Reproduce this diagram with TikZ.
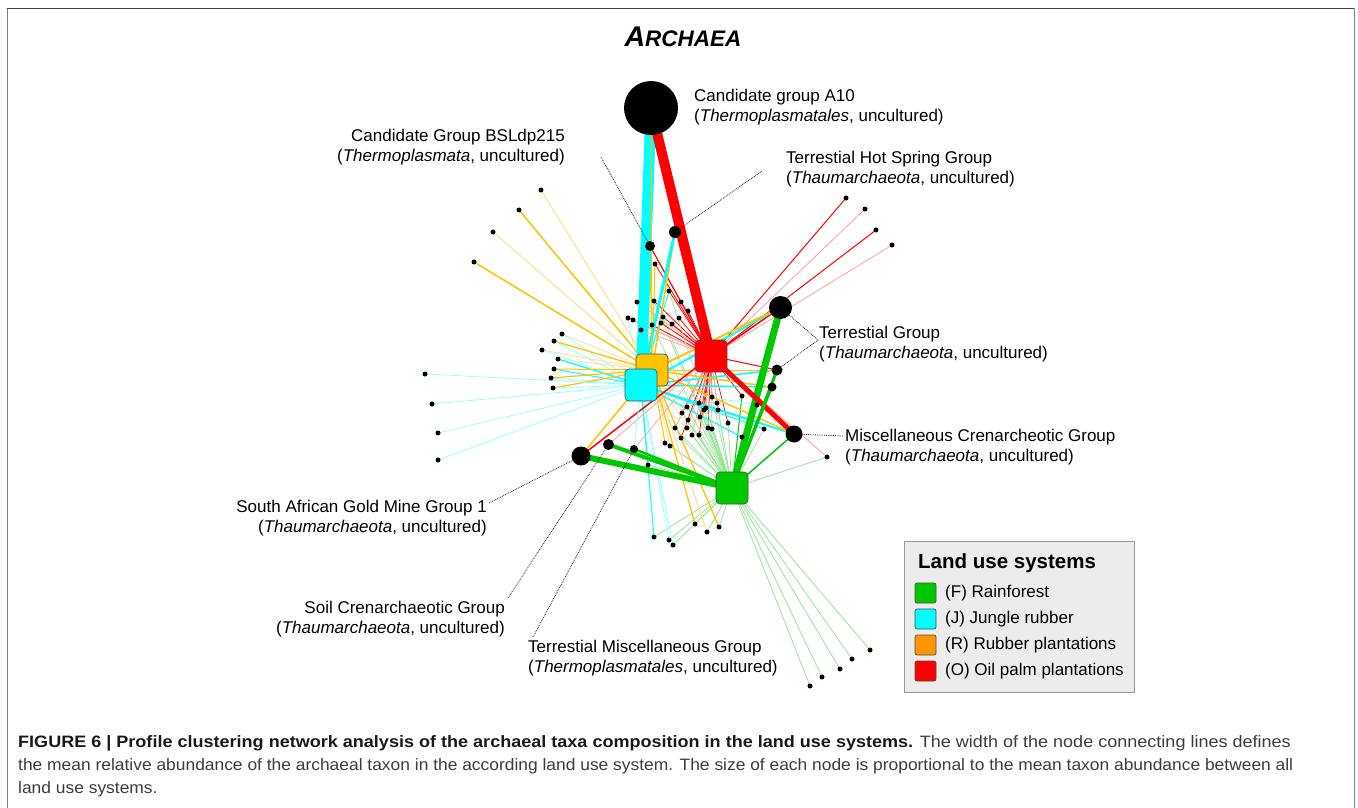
\documentclass[tikz,border=0pt]{standalone}
\usepackage{fontspec}
\setmainfont{Liberation Sans}
\newfontfamily\capfont{Liberation Sans}
\pgfdeclarelayer{edges}
\pgfsetlayers{edges,main}
\definecolor{cF}{RGB}{0,200,0}
\definecolor{cJ}{RGB}{0,255,255}
\definecolor{cR}{RGB}{255,195,0}
\definecolor{cRleg}{RGB}{255,150,0}
\definecolor{cO}{RGB}{255,0,0}
\definecolor{lF}{RGB}{150,228,150}
\definecolor{lJ}{RGB}{150,255,255}
\definecolor{lR}{RGB}{255,222,140}
\definecolor{lO}{RGB}{255,160,160}
\definecolor{capgray}{RGB}{60,60,60}
\definecolor{legfill}{RGB}{236,236,236}
\tikzset{
  hub/.style={draw=black!70, line width=0.7pt, rounded corners=4pt, minimum size=32pt, inner sep=0pt},
  taxon/.style={circle, fill=black, inner sep=0pt, minimum size=#1},
  leaf/.style={circle, fill=black, inner sep=0pt, minimum size=5pt},
  lbl/.style={font=\fontsize{17}{19.5}\selectfont, inner sep=0pt},
  lead/.style={densely dotted, line width=0.8pt, black!90},
  swatch/.style={draw=black!70, line width=0.7pt, rounded corners=2pt, minimum width=21pt, minimum height=20pt, inner sep=0pt},
  legtxt/.style={font=\fontsize{17}{19}\selectfont, inner sep=0pt, anchor=west},
  capline/.style={font=\capfont\fontsize{16.5}{20}\selectfont, inner sep=0pt, anchor=base west, text=capgray}
}
\begin{document}
\begin{tikzpicture}[x=1pt,y=-1pt]
\useasboundingbox (0,0) rectangle (1358,808);
% frame
\draw[black!50, line width=1.6pt] (7.5,808) -- (7.5,8.5);
\draw[black!75, line width=1.6pt] (6.7,8.5) -- (1354.5,8.5);
\draw[black!50, line width=1.6pt] (1354.5,8.5) -- (1354.5,808);
% title
\node[inner sep=0pt] (title) at (683,37) {\bfseries\itshape\fontsize{28.5}{30}\selectfont A\fontsize{22.5}{24}\selectfont RCHAEA};

% hubs
\node[hub, fill=cO] (O) at (711,356) {};
\node[hub, fill=cR] (R) at (652,370) {};
\node[hub, fill=cJ] (J) at (641,385) {};
\node[hub, fill=cF] (F) at (732,488) {};

% taxa with labels
\node[taxon=54pt] (A10) at (651,108) {};
\node[taxon=23pt] (TG1) at (780.5,307.5) {};
\node[taxon=17pt] (MC) at (794,434) {};
\node[taxon=19pt] (SA) at (581,456) {};
\node[taxon=11pt] (SC) at (608.5,444.5) {};
\node[taxon=8pt] (TM) at (634,449) {};
\node[taxon=10pt] (BSL) at (650,246) {};
\node[taxon=12pt] (HS) at (675,232) {};
\node[taxon=11pt] (TG2) at (777,370) {};
\node[taxon=9pt] (TG3) at (772,387) {};

% leaves
\foreach \n/\x/\y in {
 tl1/541/190, tl2/519/210, tl3/493/232, tl4/474/262,
 ln1/562/334, ln2/554/341, ln3/542/350, ln4/558/359, ln5/554/369, ln6/551/378, ln7/553/388,
 fl1/425/374, fl2/432/404, fl3/438/433, fl4/438/460,
 tc1/655/264, tc2/669/291, tc3/637/302, tc4/654/301, tc5/681/302, tc6/688/311, tc7/663/317,
 tc8/679/318, tc9/628/318, tc10/633/320, tc11/652/325, tc12/661/323, tc13/672/324, tc14/641/330,
 cb1/712/397, cb2/717/403, cb3/699/403, cb4/706/408, cb5/704/410, cb6/687/407, cb7/682/413,
 cb8/688/420, cb9/700/417, cb10/718/410, cb11/728/423, cb12/712/429, cb13/708/428, cb14/687/428,
 cb15/675/428, cb16/681/438, cb17/692/435, cb18/699/435,
 sp1/742/396, sp2/757/405, sp3/764/429, sp4/742/437, sp5/665/443, sp6/670/446, sp7/648/465, sp8/827/457,
 b1/654/537, b2/669/540, b3/673/545, b4/695/524, b5/707/532, b6/719/527,
 br1/810/686, br2/822/677, br3/840/669, br4/852/659, br5/870/650,
 tr1/846/198, tr2/865/209, tr3/876/230, tr4/892/245}
 \node[leaf] (\n) at (\x,\y) {};

\begin{pgfonlayer}{edges}
% thin edges
\foreach \h/\l/\c/\w in {
 R/tl1/lR/1, R/tl2/cR/1.5, R/tl3/lR/1, R/tl4/cR/1.5,
 J/ln1/lJ/0.8, R/ln1/lR/0.8, R/ln2/cR/1.3, J/ln2/lJ/0.8, R/ln3/lR/0.8, J/ln3/lJ/0.8,
 J/ln4/cJ/1.3, R/ln4/lR/0.8, J/ln5/cJ/1, R/ln5/cR/1, J/ln6/lJ/0.8, R/ln6/cR/1.2,
 R/ln7/cR/1.3, J/ln7/lJ/0.8,
 J/fl1/lJ/0.8, J/fl2/lJ/0.8, J/fl3/lJ/0.8, J/fl4/lJ/0.8,
 O/tc1/cO/0.8, R/tc1/cR/1, O/tc2/cO/0.8, J/tc2/cJ/1, O/tc3/lO/0.8, R/tc3/lR/0.8,
 O/tc4/cO/0.8, F/tc4/lF/0.8, O/tc5/cO/0.8, O/tc6/cO/0.8, O/tc7/cO/0.8, J/tc7/lJ/0.8,
 F/tc7/lF/0.7, O/tc8/cO/0.8, O/tc9/lO/0.8, J/tc9/lJ/0.8, O/tc10/lO/0.8, O/tc11/cO/0.8,
 R/tc11/lR/0.8, F/tc11/lF/0.7, O/tc12/cO/0.8, O/tc13/cO/0.8, O/tc14/lO/0.8, F/tc2/lF/0.7,
 O/cb1/cO/0.7, O/cb2/lO/0.7, O/cb3/cO/0.7, O/cb4/lO/0.7, O/cb5/cO/0.7, O/cb6/lO/0.7,
 O/cb7/cO/0.7, O/cb8/lO/0.7, O/cb9/cO/0.7, O/cb10/lO/0.7, O/cb11/cO/0.7, O/cb12/lO/0.7,
 O/cb13/cO/0.7, O/cb14/lO/0.7, O/cb15/lO/0.7, O/cb16/cO/0.7, O/cb17/lO/0.7, O/cb18/cO/0.7,
 F/cb1/lF/0.7, F/cb2/lF/0.7, F/cb3/lF/0.7, F/cb4/lF/0.7, F/cb5/lF/0.7, F/cb6/lF/0.7,
 F/cb7/lF/0.7, F/cb8/lF/0.7, F/cb9/lF/0.7, F/cb10/lF/0.7, F/cb11/lF/0.7, F/cb12/lF/0.7,
 F/cb13/lF/0.7, F/cb14/lF/0.7, F/cb15/lF/0.7, F/cb16/lF/0.7, F/cb17/lF/0.7, F/cb18/lF/0.7,
 J/cb6/lJ/0.7, J/cb14/lJ/0.7, J/cb16/lJ/0.7, R/cb8/lR/0.7, R/cb17/lR/0.7,
 O/sp1/cO/0.8, F/sp1/cF/1, J/sp2/lJ/0.8, F/sp2/lF/0.7, J/sp3/cJ/1, F/sp3/lF/0.7,
 J/sp4/cJ/1, F/sp4/lF/0.7, R/sp5/cR/1, F/sp5/lF/0.7, R/sp6/lR/0.8, F/sp6/lF/0.7,
 J/sp7/cJ/1, F/sp7/lF/0.7, O/sp8/lO/0.8, F/sp8/lF/0.8,
 J/b1/cJ/1, F/b1/lF/0.8, J/b2/lJ/0.8, F/b2/lF/0.8, J/b3/lJ/0.8, F/b3/lF/0.8,
 R/b4/cR/1.3, F/b4/lF/0.8, R/b5/lR/1, F/b5/lF/0.8, R/b6/cR/1.3, F/b6/lF/0.8,
 F/br1/lF/0.8, F/br2/lF/0.8, F/br3/lF/0.8, F/br4/lF/0.8, F/br5/lF/0.8,
 O/tr1/cO/1, O/tr2/lO/0.8, O/tr3/cO/1, O/tr4/lO/0.8,
 O/BSL/cO/1.2, R/BSL/cR/1, J/BSL/lJ/0.8, R/HS/cR/1.5, O/HS/lO/0.8,
 O/TG1/cO/1.5, J/TG1/cJ/2, R/TG1/cR/2, O/TG2/cO/1, J/TG2/cJ/1.5, R/TG2/cR/1,
 J/TG3/cJ/1.5, R/TG3/cR/1.5, J/MC/cJ/2, R/MC/cR/1.5,
 R/SA/cR/1.5, O/SA/cO/1.5, O/SC/lO/0.8, J/TM/lJ/0.8, O/TM/lO/0.7}
 \draw[draw=\c, line width=\w pt] (\h.center) -- (\l.center);
% thick edges
\draw[cJ, line width=11pt] (A10.center) -- (J.center);
\draw[cO, line width=10pt] (A10.center) -- (O.center);
\draw[cF, line width=7pt] (TG1.center) -- (F.center);
\draw[cO, line width=5pt] (O.center) -- (MC.center);
\draw[cF, line width=6pt] (SA.center) -- (F.center);
\draw[cF, line width=4pt] (SC.center) -- (F.center);
\draw[cF, line width=2.5pt] (TM.center) -- (F.center);
\draw[cF, line width=3pt] (TG2.center) -- (F.center);
\draw[cF, line width=2pt] (TG3.center) -- (F.center);
\draw[cF, line width=1.5pt] (MC.center) -- (F.center);
\draw[cJ, line width=3pt] (HS.center) -- (J.center);
\draw[cR, line width=1pt] (A10.center) -- (R.center);
\end{pgfonlayer}

% labels
\node[lbl, align=left, anchor=west] (lA10) at (694,107) {Candidate group A10\\(\textit{Thermoplasmatales}, uncultured)};
\node[lbl, align=right, anchor=east] (lBSL) at (565,147) {Candidate Group BSLdp215\\(\textit{Thermoplasmata}, uncultured)};
\node[lbl, align=left, anchor=west] (lHS) at (786,169) {Terrestial Hot Spring Group\\(\textit{Thaumarchaeota}, uncultured)};
\node[lbl, align=left, anchor=west] (lTG) at (819,344) {Terrestial Group\\(\textit{Thaumarchaeota}, uncultured)};
\node[lbl, align=left, anchor=west] (lMC) at (845,447) {Miscellaneous Crenarcheotic Group\\(\textit{Thaumarchaeota}, uncultured)};
\node[lbl, align=right, anchor=east] (lSA) at (487,518) {South African Gold Mine Group 1\\(\textit{Thaumarchaeota}, uncultured)};
\node[lbl, align=right, anchor=east] (lSC) at (505,619) {Soil Crenarchaeotic Group\\(\textit{Thaumarchaeota}, uncultured)};
\node[lbl, align=left, anchor=west] (lTM) at (528,658) {Terrestial Miscellaneous Group\\(\textit{Thermoplasmatales}, uncultured)};

% leader lines
\coordinate (kBSL) at (601,157);
\coordinate (kHS) at (762,171);
\coordinate (kTG) at (818,340);
\coordinate (kMC) at (843,436);
\coordinate (kSA) at (489,503);
\coordinate (kSC) at (508,598);
\coordinate (kTM) at (533,637);
\draw[lead] (kBSL) -- (BSL);
\draw[lead] (kHS) -- (HS);
\draw[lead] (TG1) -- (kTG) -- (TG2);
\draw[lead] (kMC) -- (MC);
\draw[lead] (kSA) -- (SA);
\draw[lead] (kSC) -- (SC);
\draw[lead] (kTM) -- (TM);

% legend
\node[draw=black!40, line width=0.8pt, fill=legfill, minimum width=230pt, minimum height=151pt, anchor=north west, inner sep=0pt] (legend) at (904,541) {};
\node[inner sep=0pt, anchor=west, font=\bfseries\fontsize{20.5}{22}\selectfont] (legtitle) at (918,563) {Land use systems};
\node[swatch, fill=cF] (sF) at (925.5,593) {};
\node[swatch, fill=cJ] (sJ) at (925.5,619) {};
\node[swatch, fill=cRleg] (sR) at (925.5,645) {};
\node[swatch, fill=cO] (sO) at (925.5,671) {};
\node[legtxt] (tF) at (945,593) {(F) Rainforest};
\node[legtxt] (tJ) at (945,619) {(J) Jungle rubber};
\node[legtxt] (tR) at (945,645) {(R) Rubber plantations};
\node[legtxt] (tO) at (945,671) {(O) Oil palm plantations};

% caption
\node[capline] (cap1) at (18,747) {\scalebox{1.093}[1]{{\bfseries\color{black!90}FIGURE 6 | Profile clustering network analysis of the archaeal taxa composition in the land use systems.} The width of the node connecting lines defines}};
\node[capline] (cap2) at (18,770) {\scalebox{1.055}[1]{the mean relative abundance of the archaeal taxon in the according land use system. The size of each node is proportional to the mean taxon abundance between all}};
\node[capline] (cap3) at (18,793) {\scalebox{1.055}[1]{land use systems.}};
\end{tikzpicture}
\end{document}
